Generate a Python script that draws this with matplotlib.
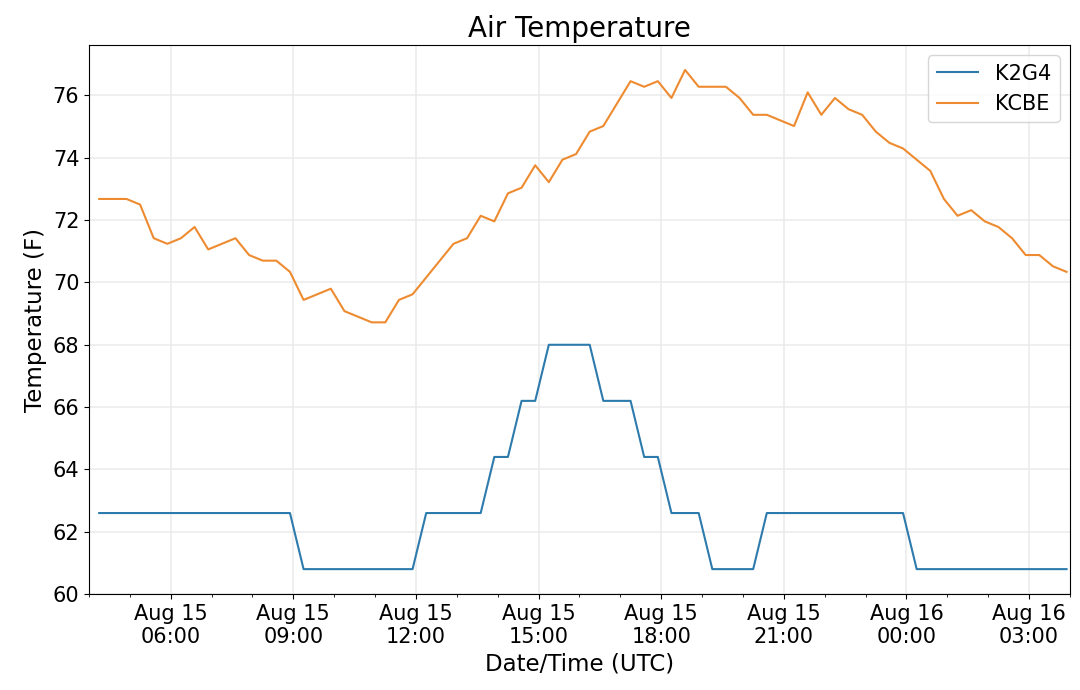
import matplotlib
matplotlib.use('Agg')
import matplotlib.pyplot as plt
import matplotlib.dates as mdates
import pandas as pd

# observation times, every 20 minutes
times = pd.date_range('2019-08-15 04:15', periods=72, freq='20min')

k2g4 = [62.6, 62.6, 62.6, 62.6, 62.6, 62.6, 62.6, 62.6, 62.6, 62.6,
        62.6, 62.6, 62.6, 62.6, 62.6, 60.8, 60.8, 60.8, 60.8, 60.8,
        60.8, 60.8, 60.8, 60.8, 62.6, 62.6, 62.6, 62.6, 62.6, 64.4,
        64.4, 66.2, 66.2, 68.0, 68.0, 68.0, 68.0, 66.2, 66.2, 66.2,
        64.4, 64.4, 62.6, 62.6, 62.6, 60.8, 60.8, 60.8, 60.8, 62.6,
        62.6, 62.6, 62.6, 62.6, 62.6, 62.6, 62.6, 62.6, 62.6, 62.6,
        60.8, 60.8, 60.8, 60.8, 60.8, 60.8, 60.8, 60.8, 60.8, 60.8,
        60.8, 60.8]

kcbe = [72.68, 72.68, 72.68, 72.5, 71.42, 71.24, 71.42, 71.78, 71.06, 71.24,
        71.42, 70.88, 70.7, 70.7, 70.34, 69.44, 69.62, 69.8, 69.08, 68.9,
        68.72, 68.72, 69.44, 69.62, 70.16, 70.7, 71.24, 71.42, 72.14, 71.96,
        72.86, 73.04, 73.76, 73.22, 73.94, 74.12, 74.84, 75.02, 75.74, 76.46,
        76.28, 76.46, 75.92, 76.82, 76.28, 76.28, 76.28, 75.92, 75.38, 75.38,
        75.2, 75.02, 76.1, 75.38, 75.92, 75.56, 75.38, 74.84, 74.48, 74.3,
        73.94, 73.58, 72.68, 72.14, 72.32, 71.96, 71.78, 71.42, 70.88, 70.88,
        70.52, 70.34]

fig = plt.figure(figsize=(10.8, 6.9), dpi=100)
ax = fig.add_axes([0.0824, 0.139, 0.9083, 0.7958])

ax.plot(times, k2g4, color='#2d7bac', label='K2G4')
ax.plot(times, kcbe, color='#ee8b30', label='KCBE')

ax.set_xlim(pd.Timestamp('2019-08-15 04:00'), pd.Timestamp('2019-08-16 04:00'))
ax.xaxis.set_major_locator(mdates.HourLocator(byhour=range(0, 24, 3)))
ax.xaxis.set_minor_locator(mdates.HourLocator())
ax.xaxis.set_major_formatter(mdates.DateFormatter('%b %d\n%H:%M'))

ax.grid(True, color='#ebebeb', linewidth=1.1)
ax.tick_params(axis='both', which='major', labelsize=15)

ax.set_title('Air Temperature', fontsize=20)
ax.set_xlabel('Date/Time (UTC)', fontsize=16.5)
ax.set_ylabel('Temperature (F)', fontsize=16.5)
ax.legend(loc='upper right', fontsize=15)

fig.savefig('out.png', dpi=100)
